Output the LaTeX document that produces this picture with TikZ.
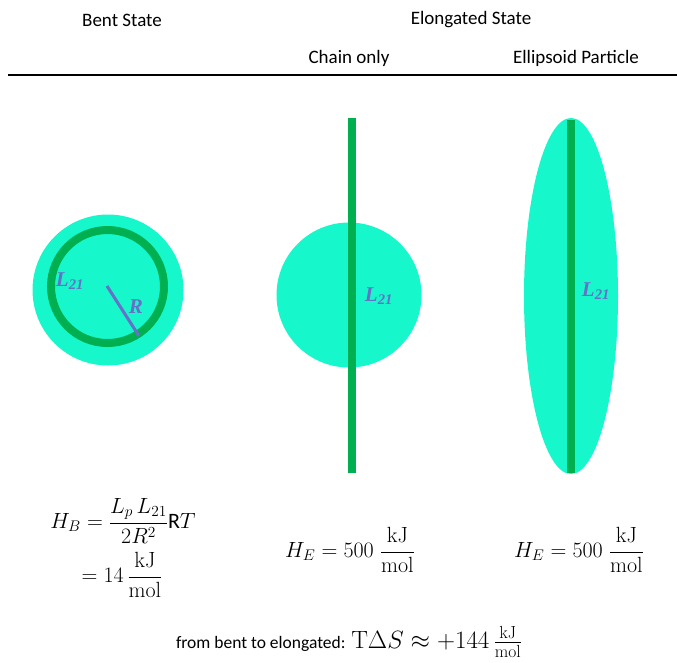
\RequirePackage{fix-cm}
\documentclass[tikz,border=0pt]{standalone}
\usepackage{amsmath}
\usepackage[no-math]{fontspec}
\setmainfont{Carlito}
\newfontfamily\lblfont{Liberation Serif}
\definecolor{particle}{RGB}{23,247,204}
\definecolor{chain}{RGB}{0,176,80}
\definecolor{lenline}{RGB}{102,112,200}
\tikzset{
  chainbar/.style={draw=chain,line width=8pt},
  lenlbl/.style={text=lenline,font=\lblfont\bfseries\itshape\fontsize{21}{23}\selectfont,inner sep=0pt},
  formula/.style={font=\fontsize{22}{26}\selectfont,inner sep=1pt},
}
\begin{document}
\begin{tikzpicture}[x=1pt,y=-1pt,every node/.style={font=\fontsize{19}{23}\selectfont}]
\useasboundingbox (0,0) rectangle (677,662);
% column heads and rule
\node (bent) at (122,20) {Bent State};
\node (elong) at (471,20) {Elongated State};
\node (chonly) at (349,58) {Chain only};
\node (ellip) at (576,58) {Ellipsoid Particle};
\draw[line width=2pt] (8,75) -- (677,75);
% bent state: chain closed to a ring
\begin{scope}
\fill[particle] (108,290) circle (75.5);
\draw[chainbar] (107.5,286.5) circle (56.5);
\coordinate (ctr) at (107,286);
\coordinate (rim) at (139,336);
\draw[lenline,line width=3pt] (ctr) -- (rim);
\node[lenlbl] (Lbent) at (70,281) {L\textsubscript{21}};
\node[lenlbl] (Rbent) at (136,307) {R};
\end{scope}
% elongated state, chain only
\begin{scope}
\fill[particle] (349,295) circle (72.5);
\coordinate (ctop) at (352,118);
\coordinate (cbot) at (352,473);
\draw[chainbar] (ctop) -- (cbot);
\node[lenlbl] (Lchain) at (379,296) {L\textsubscript{21}};
\end{scope}
% elongated state, ellipsoid particle
\begin{scope}
\fill[particle] (571,296) ellipse (47 and 178);
\coordinate (etop) at (571,120);
\coordinate (ebot) at (571,473);
\draw[chainbar] (etop) -- (ebot);
\node[lenlbl] (Lell) at (596,291) {L\textsubscript{21}};
\end{scope}
% enthalpies
\node[formula] (HB) at (123,521) {$H_B=\dfrac{L_p\,L_{21}}{2R^2}\text{R}T$};
\node[formula] (HB2) at (122,575) {$=14\,\dfrac{\mathrm{kJ}}{\mathrm{mol}}$};
\node[formula] (HE1) at (350,550) {$H_E=500\;\dfrac{\mathrm{kJ}}{\mathrm{mol}}$};
\node[formula] (HE2) at (579,550) {$H_E=500\;\dfrac{\mathrm{kJ}}{\mathrm{mol}}$};
\node (TdS) at (349,642) {{\fontsize{17.5}{20}\selectfont from bent to elongated:} {\fontsize{25}{28}\selectfont$\mathrm{T}\Delta S\approx+144\,\tfrac{\mathrm{kJ}}{\mathrm{mol}}$}};
\end{tikzpicture}
\end{document}
